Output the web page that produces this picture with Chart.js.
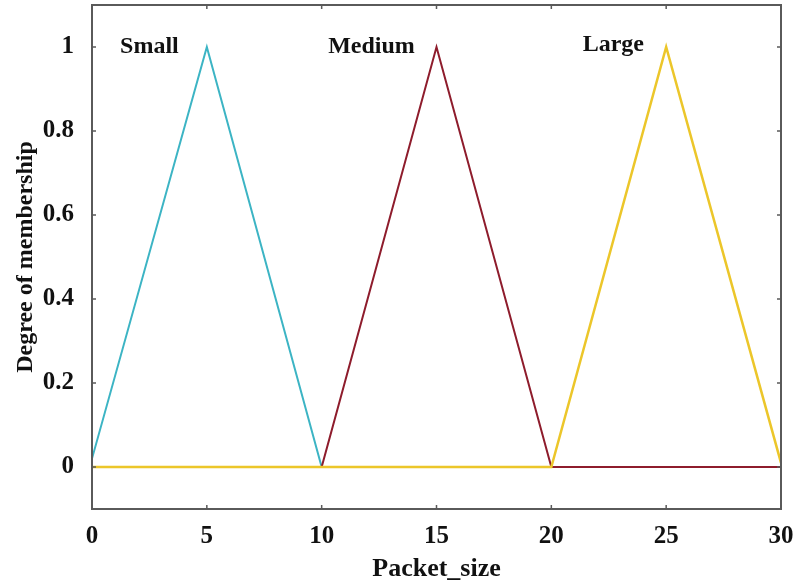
<!DOCTYPE html>
<html>
<head>
<meta charset="utf-8">
<script src="https://cdn.jsdelivr.net/npm/chart.js@4.4.0/dist/chart.umd.min.js"></script>
<style>
  html, body { margin: 0; padding: 0; background: #fff; }
  #grafico { display: block; }
</style>
</head>
<body>
<canvas id="grafico" width="806" height="586"></canvas>
<script>
// Funções de pertinência (Packet_size)
const smallX = [0, 5, 10, 30];
const smallY = [0.02, 1, 0, 0];
const mediumX = [0, 10, 15, 20, 30];
const mediumY = [0, 0, 1, 0, 0];
const largeX = [0, 20, 25, 30];
const largeY = [0, 0, 1, 0.01];

// Ticks
const xTicks = [0, 5, 10, 15, 20, 25, 30];
const yTicks = [0, 0.2, 0.4, 0.6, 0.8, 1];

// Rótulos dos conjuntos
const nomes = ['Small', 'Medium', 'Large'];
const nomesX = [2.5, 12.17, 22.7];
const nomesY = [0.985, 0.985, 0.99];

function pontos(xs, ys) {
    return xs.map(function (x, i) { return { x: x, y: ys[i] }; });
}

const fonte = "'Liberation Serif', 'Times New Roman', serif";

// caixa estilo MATLAB com ticks para dentro + nomes
const caixaPlugin = {
    id: 'caixa',
    afterDatasetsDraw(chart) {
        const ctx = chart.ctx;
        const a = chart.chartArea;
        const sx = chart.scales.x;
        const sy = chart.scales.y;
        ctx.save();
        ctx.strokeStyle = '#5a5a5a';
        ctx.lineWidth = 2;
        ctx.strokeRect(a.left, a.top, a.right - a.left, a.bottom - a.top);
        ctx.lineWidth = 1.5;
        ctx.beginPath();
        xTicks.forEach(function (v) {
            const px = sx.getPixelForValue(v);
            ctx.moveTo(px, a.bottom); ctx.lineTo(px, a.bottom - 4);
            ctx.moveTo(px, a.top); ctx.lineTo(px, a.top + 4);
        });
        yTicks.forEach(function (v) {
            const py = sy.getPixelForValue(v);
            ctx.moveTo(a.left, py); ctx.lineTo(a.left + 4, py);
            ctx.moveTo(a.right, py); ctx.lineTo(a.right - 4, py);
        });
        ctx.stroke();

        ctx.fillStyle = '#111';
        ctx.font = 'bold 24px ' + fonte;
        ctx.textAlign = 'center';
        ctx.textBaseline = 'alphabetic';
        nomes.forEach(function (n, i) {
            ctx.fillText(n, sx.getPixelForValue(nomesX[i]), sy.getPixelForValue(nomesY[i]));
        });
        ctx.restore();
    }
};

const grafico = document.getElementById('grafico');

new Chart(grafico, {
    type: 'line',
    data: {
        datasets: [
            {
                label: 'Small',
                data: pontos(smallX, smallY),
                borderColor: '#3cb4c4',
                borderWidth: 2,
                pointRadius: 0,
                order: 3
            },
            {
                label: 'Medium',
                data: pontos(mediumX, mediumY),
                borderColor: '#8e1c2c',
                borderWidth: 2,
                pointRadius: 0,
                order: 2
            },
            {
                label: 'Large',
                data: pontos(largeX, largeY),
                borderColor: '#ecc62a',
                borderWidth: 2.5,
                pointRadius: 0,
                order: 1
            }
        ]
    },
    options: {
        responsive: false,
        animation: false,
        layout: { padding: { top: 5, right: 25, left: 0, bottom: 0 } },
        plugins: {
            legend: { display: false },
            tooltip: { enabled: false }
        },
        scales: {
            x: {
                type: 'linear',
                min: 0,
                max: 30,
                grid: { display: false },
                border: { display: false },
                afterBuildTicks: function (s) { s.ticks = xTicks.map(function (v) { return { value: v }; }); },
                afterFit: function (s) { s.height = 77; s.paddingLeft = 0; s.paddingRight = 0; },
                ticks: {
                    padding: 5,
                    color: '#111',
                    font: { family: fonte, size: 25, weight: 'bold' }
                },
                title: {
                    display: true,
                    text: 'Packet_size',
                    color: '#111',
                    padding: { top: 0, bottom: 1 },
                    font: { family: fonte, size: 26, weight: 'bold' }
                }
            },
            y: {
                min: -0.1,
                max: 1.1,
                grid: { display: false },
                border: { display: false },
                afterBuildTicks: function (s) { s.ticks = yTicks.map(function (v) { return { value: v }; }); },
                afterFit: function (s) { s.width = 92; s.paddingTop = 0; s.paddingBottom = 0; },
                ticks: {
                    padding: 10,
                    color: '#111',
                    font: { family: fonte, size: 25, weight: 'bold' },
                    callback: function (v) { return String(Math.round(v * 10) / 10); }
                },
                title: {
                    display: true,
                    text: 'Degree of membership',
                    color: '#111',
                    padding: { top: 11, bottom: 0 },
                    font: { family: fonte, size: 24, weight: 'bold' }
                }
            }
        }
    },
    plugins: [caixaPlugin]
});
</script>
</body>
</html>
